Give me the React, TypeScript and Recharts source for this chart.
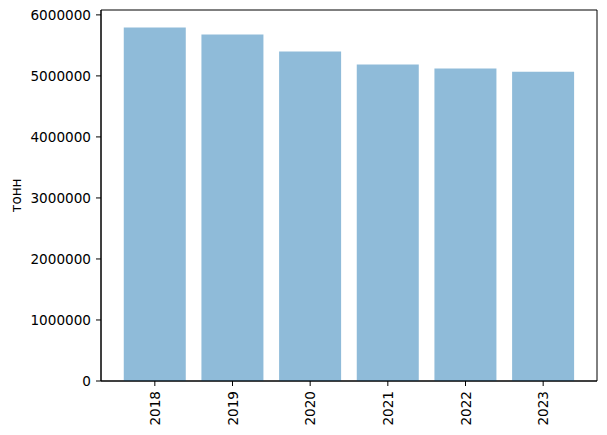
import { Bar, BarChart, CartesianGrid, XAxis, YAxis } from 'recharts'

const years = ['2018', '2019', '2020', '2021', '2022', '2023']
const tonnes = [5792000, 5677000, 5398000, 5185000, 5120000, 5070000]
const yTicks = [0, 1000000, 2000000, 3000000, 4000000, 5000000, 6000000]

const font = 'DejaVu Sans'

function YearTick({ x, y, payload }: any) {
  return (
    <text
      x={x}
      y={y}
      transform={`rotate(-90 ${x} ${y})`}
      textAnchor="end"
      dominantBaseline="central"
      fontSize={13.6}
      fontFamily={font}
      fill="#000"
    >
      {payload.value}
    </text>
  )
}

export default function App() {
  const data = years.map((year, i) => ({ year, value: tonnes[i] }))

  return (
    <div style={{ position: 'absolute', left: 0, top: 0 }}>
      <BarChart
        width={607}
        height={435}
        data={data}
        margin={{ top: 10, right: 10, left: 0, bottom: 0 }}
        barCategoryGap="10%"
      >
        {/* frame around the plot area, matplotlib style */}
        <CartesianGrid
          stroke="#000"
          strokeOpacity={1}
          horizontalCoordinatesGenerator={({ offset }: any) => [offset.top, offset.top + offset.height]}
          verticalCoordinatesGenerator={({ offset }: any) => [offset.left, offset.left + offset.width]}
        />
        <XAxis
          dataKey="year"
          height={54}
          padding={{ left: 15, right: 15 }}
          tickSize={5}
          tickMargin={5}
          stroke="#000"
          tickLine={{ stroke: '#000' }}
          tick={<YearTick />}
          interval={0}
        />
        <YAxis
          width={101}
          domain={[0, 6080000]}
          ticks={yTicks}
          tickSize={5}
          tickMargin={5}
          stroke="#000"
          tick={{ fontSize: 13.6, fontFamily: font, fill: '#000' }}
          label={{ value: 'тонн', angle: -90, position: 'center', dx: -34, style: { fontSize: 13.6, fontFamily: font, fill: '#000' } }}
        />
        <Bar dataKey="value" fill="#1f77b4" fillOpacity={0.5} isAnimationActive={false} />
      </BarChart>
    </div>
  )
}
